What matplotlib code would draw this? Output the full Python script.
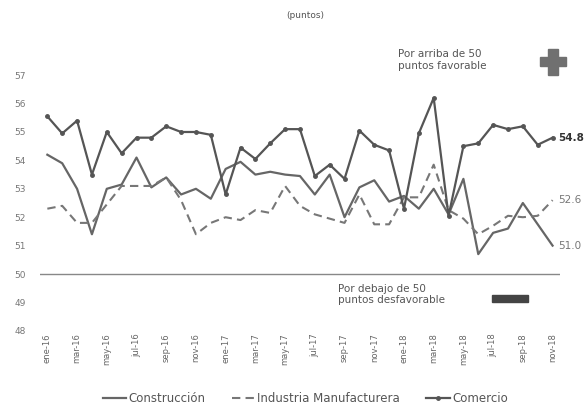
import matplotlib
matplotlib.use("Agg")
import matplotlib.pyplot as plt
from matplotlib.patches import Rectangle

plt.rcParams['font.family'] = ['DejaVu Sans']

months = ['ene', 'feb', 'mar', 'abr', 'may', 'jun', 'jul', 'ago', 'sep', 'oct', 'nov', 'dic']
periods = [f"{m}-{y}" for y in ('16', '17', '18') for m in months][:35]

construccion = [54.2, 53.9, 53.0, 51.4, 53.0, 53.15, 54.1, 53.05, 53.4, 52.8, 53.0, 52.65,
                53.7, 53.95, 53.5, 53.6, 53.5, 53.45, 52.8, 53.5, 52.0, 53.05, 53.3, 52.55,
                52.75, 52.3, 53.0, 52.1, 53.35, 50.7, 51.45, 51.6, 52.5, 51.75, 51.0]
industria = [52.3, 52.4, 51.8, 51.8, 52.45, 53.1, 53.1, 53.1, 53.4, 52.6, 51.4, 51.8,
             52.0, 51.9, 52.25, 52.15, 53.1, 52.4, 52.1, 51.95, 51.8, 52.8, 51.75, 51.75,
             52.7, 52.7, 53.85, 52.25, 51.95, 51.4, 51.7, 52.05, 52.0, 52.05, 52.6]
comercio = [55.55, 54.95, 55.4, 53.5, 55.0, 54.25, 54.8, 54.8, 55.2, 55.0, 55.0, 54.9,
            52.8, 54.45, 54.05, 54.6, 55.1, 55.1, 53.45, 53.85, 53.35, 55.05, 54.55, 54.35,
            52.3, 54.95, 56.2, 52.05, 54.5, 54.6, 55.25, 55.1, 55.2, 54.55, 54.8]
last_labels = ['51.0', '52.6', '54.8']

fig = plt.figure(figsize=(5.87, 4.12), dpi=100)
ax = fig.add_axes([0.068, 0.197, 0.886, 0.655])

x = list(range(len(periods)))
ax.plot(x, construccion, color='#666666', lw=1.6, label='Construcción')
ax.plot(x, industria, color='#777777', lw=1.5, ls=(0, (4, 2.5)), label='Industria Manufacturera')
ax.plot(x, comercio, color='#555555', lw=1.6, marker='o', ms=2.5, label='Comercio')
ax.axhline(50, color='#888888', lw=1)

ax.set_xlim(-0.5, 34.5)
ax.set_ylim(48, 57.5)
ax.set_yticks(range(48, 58))
ax.set_xticks(x[::2])
ax.set_xticklabels(periods[::2], rotation=90, fontsize=6, color='#666666')
ax.tick_params(axis='y', labelsize=6.5, labelcolor='#777777', length=0, pad=10)
ax.tick_params(axis='x', length=0, pad=2)
for s in ax.spines.values():
    s.set_visible(False)

# etiquetas del ultimo valor
ax.text(34.4, construccion[-1], last_labels[0], fontsize=7.5, color='#777777', va='center')
ax.text(34.4, industria[-1], last_labels[1], fontsize=7.5, color='#777777', va='center')
ax.text(34.4, comercio[-1], last_labels[2], fontsize=7.5, color='#333333', va='center',
        fontweight='bold')

fig.text(0.52, 0.962, '(puntos)', fontsize=6.5, color='#555555', ha='center', va='center')
fig.text(0.678, 0.855, 'Por arriba de 50\npuntos favorable', fontsize=7.5, color='#555555',
         va='center', linespacing=1.2)
fig.text(0.575, 0.285, 'Por debajo de 50\npuntos desfavorable', fontsize=7.5, color='#555555',
         va='center', linespacing=1.2)

# signo mas y barra
fig.patches.append(Rectangle((0.920, 0.839), 0.044, 0.022, transform=fig.transFigure,
                             color='#707070'))
fig.patches.append(Rectangle((0.934, 0.818), 0.016, 0.064, transform=fig.transFigure,
                             color='#707070'))
fig.patches.append(Rectangle((0.838, 0.267), 0.062, 0.018, transform=fig.transFigure,
                             color='#444444'))

fig.legend(loc='lower center', bbox_to_anchor=(0.52, -0.01), ncol=3, frameon=False,
           fontsize=8.5, handlelength=2.0, columnspacing=2.2, handletextpad=0.2,
           labelcolor='#555555')

fig.savefig('out.png', dpi=100)
